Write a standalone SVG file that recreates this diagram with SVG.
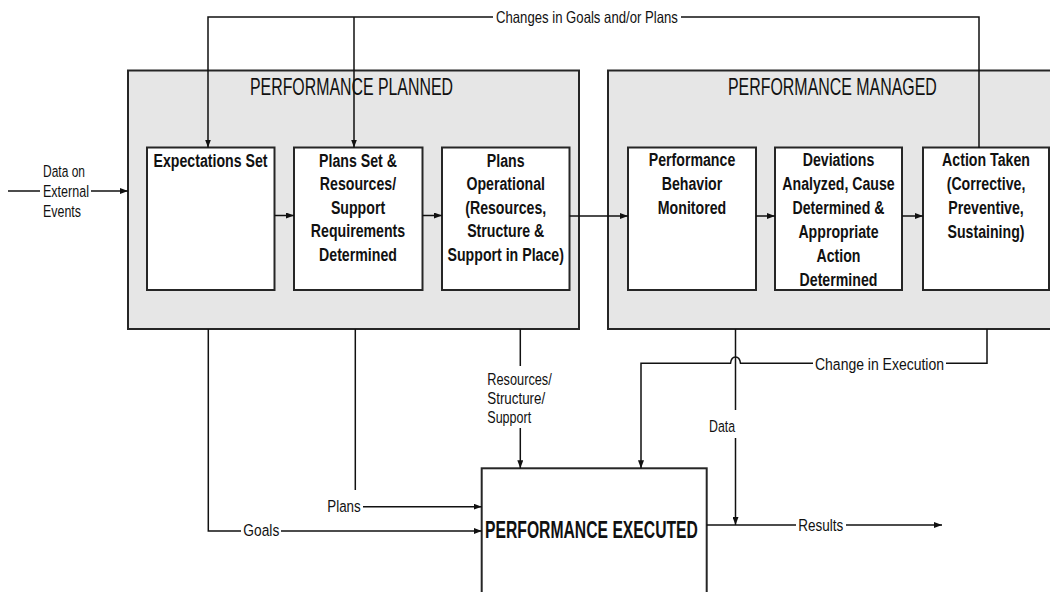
<svg xmlns="http://www.w3.org/2000/svg" width="1050" height="592" viewBox="0 0 1050 592">
  <style>
    .bg { fill: #ffffff; }
    .phase { fill: #e6e6e6; stroke: #262626; stroke-width: 2; }
    .box { fill: #ffffff; stroke: #262626; stroke-width: 2; }
    .title { font-family: "Liberation Sans", Arial, sans-serif; font-size: 24px; fill: #111; }
    .step { font-family: "Liberation Sans", Arial, sans-serif; font-size: 19px; font-weight: bold; fill: #111; text-anchor: middle; }
    .lbl { font-family: "Liberation Sans", Arial, sans-serif; font-size: 16.5px; fill: #111; }
    .wire { fill: none; stroke: #111; stroke-width: 1.5; }
    .arrow { fill: none; stroke: #111; stroke-width: 1.5; marker-end: url(#head); }
  </style>
  <defs>
    <marker id="head" viewBox="0 0 8 6" refX="8" refY="3" markerWidth="8" markerHeight="6" markerUnits="userSpaceOnUse" orient="auto">
      <path d="M0,0 L8,3 L0,6 z" fill="#111"/>
    </marker>
  </defs>

  <rect class="bg" x="0" y="0" width="1050" height="592"/>

  <!-- phase containers -->
  <g id="performance-planned">
    <rect class="phase" x="128" y="70.5" width="451" height="258.5"/>
    <text class="title" transform="translate(250 94.5) scale(0.662 1)">PERFORMANCE PLANNED</text>
  </g>
  <g id="performance-managed">
    <rect class="phase" x="608" y="70.5" width="470" height="258.5"/>
    <text class="title" transform="translate(728 94.5) scale(0.664 1)">PERFORMANCE MANAGED</text>
  </g>

  <!-- step boxes -->
  <g id="expectations-set">
    <rect class="box" x="147" y="147.5" width="127.5" height="142.5"/>
    <g transform="translate(210.5 0) scale(0.745 1)">
      <text class="step" x="0" y="167">Expectations Set</text>
    </g>
  </g>
  <g id="plans-set">
    <rect class="box" x="294" y="147.5" width="128.5" height="142.5"/>
    <g transform="translate(358 0) scale(0.745 1)">
      <text class="step" x="0" y="167">Plans Set &amp;</text>
      <text class="step" x="0" y="190.5">Resources/</text>
      <text class="step" x="0" y="214">Support</text>
      <text class="step" x="0" y="237.5">Requirements</text>
      <text class="step" x="0" y="261">Determined</text>
    </g>
  </g>
  <g id="plans-operational">
    <rect class="box" x="442" y="147.5" width="127.5" height="142.5"/>
    <g transform="translate(505.7 0) scale(0.745 1)">
      <text class="step" x="0" y="167">Plans</text>
      <text class="step" x="0" y="190.5">Operational</text>
      <text class="step" x="0" y="214">(Resources,</text>
      <text class="step" x="0" y="237.5">Structure &amp;</text>
      <text class="step" x="0" y="261">Support in Place)</text>
    </g>
  </g>
  <g id="behavior-monitored">
    <rect class="box" x="628" y="147.5" width="128" height="142.5"/>
    <g transform="translate(692 0) scale(0.745 1)">
      <text class="step" x="0" y="166.5">Performance</text>
      <text class="step" x="0" y="190.5">Behavior</text>
      <text class="step" x="0" y="214.5">Monitored</text>
    </g>
  </g>
  <g id="deviations-analyzed">
    <rect class="box" x="775" y="147.5" width="127" height="142.5"/>
    <g transform="translate(838.5 0) scale(0.745 1)">
      <text class="step" x="0" y="166.5">Deviations</text>
      <text class="step" x="0" y="190.5">Analyzed, Cause</text>
      <text class="step" x="0" y="214.5">Determined &amp;</text>
      <text class="step" x="0" y="238.5">Appropriate</text>
      <text class="step" x="0" y="262.5">Action</text>
      <text class="step" x="0" y="286.5">Determined</text>
    </g>
  </g>
  <g id="action-taken">
    <rect class="box" x="923" y="147.5" width="126" height="142.5"/>
    <g transform="translate(986 0) scale(0.745 1)">
      <text class="step" x="0" y="166.5">Action Taken</text>
      <text class="step" x="0" y="190.5">(Corrective,</text>
      <text class="step" x="0" y="214.5">Preventive,</text>
      <text class="step" x="0" y="238.5">Sustaining)</text>
    </g>
  </g>

  <g id="performance-executed">
    <rect class="box" x="481.7" y="468.3" width="225" height="140"/>
    <text class="title" font-weight="bold" transform="translate(485 537.5) scale(0.655 1)">PERFORMANCE EXECUTED</text>
  </g>

  <!-- connectors -->
  <g id="connectors">
    <!-- feedback loop over the top -->
    <path class="wire" d="M979 148 V17 H681"/>
    <path class="arrow" d="M493 17 H208 V147.5"/>
    <path class="arrow" d="M354 17 V147.5"/>

    <!-- external input -->
    <path class="wire" d="M8 191 H40"/>
    <path class="arrow" d="M91 191 H128"/>

    <!-- step chain -->
    <path class="arrow" d="M274.5 215.5 H294"/>
    <path class="arrow" d="M422.5 215.5 H442"/>
    <path class="arrow" d="M569.5 216 H628"/>
    <path class="arrow" d="M756 216 H775"/>
    <path class="arrow" d="M902 216 H923"/>

    <!-- planned outputs into execution -->
    <path class="wire" d="M208.3 329 V531 H241"/>
    <path class="arrow" d="M281 531 H481.7"/>
    <path class="wire" d="M355.3 329 V490"/>
    <path class="arrow" d="M363 506.7 H481.7"/>
    <path class="wire" d="M520.3 329 V366"/>
    <path class="arrow" d="M520.3 428 V468.3"/>

    <!-- managed feedback into execution, hopping over the data line -->
    <path class="wire" d="M987 329 V363.3 H946"/>
    <path class="arrow" d="M813 363.3 H740.5 C739.5 355, 731.5 355, 730.5 363.3 H641 V468.3"/>

    <!-- data back to monitoring -->
    <path class="wire" d="M735.5 329 V410"/>
    <path class="arrow" d="M735.5 438 V525"/>

    <!-- results out -->
    <path class="wire" d="M706.7 525 H796"/>
    <path class="arrow" d="M846 525 H942"/>
  </g>

  <!-- connector labels -->
  <g id="labels">
    <text class="lbl" transform="translate(496 23) scale(0.797 1)">Changes in Goals and/or Plans</text>
    <text class="lbl" transform="translate(43 177) scale(0.727 1)">Data on</text>
    <text class="lbl" transform="translate(43 196.7) scale(0.76 1)">External</text>
    <text class="lbl" transform="translate(43 216.5) scale(0.754 1)">Events</text>
    <text class="lbl" transform="translate(243.3 536) scale(0.835 1)">Goals</text>
    <text class="lbl" transform="translate(327.3 511.5) scale(0.81 1)">Plans</text>
    <text class="lbl" transform="translate(487.3 385) scale(0.773 1)">Resources/</text>
    <text class="lbl" transform="translate(487.3 404) scale(0.81 1)">Structure/</text>
    <text class="lbl" transform="translate(487.3 423) scale(0.76 1)">Support</text>
    <text class="lbl" transform="translate(709 432) scale(0.747 1)">Data</text>
    <text class="lbl" transform="translate(815 369.5) scale(0.848 1)">Change in Execution</text>
    <text class="lbl" transform="translate(798.3 530.5) scale(0.818 1)">Results</text>
  </g>
</svg>
